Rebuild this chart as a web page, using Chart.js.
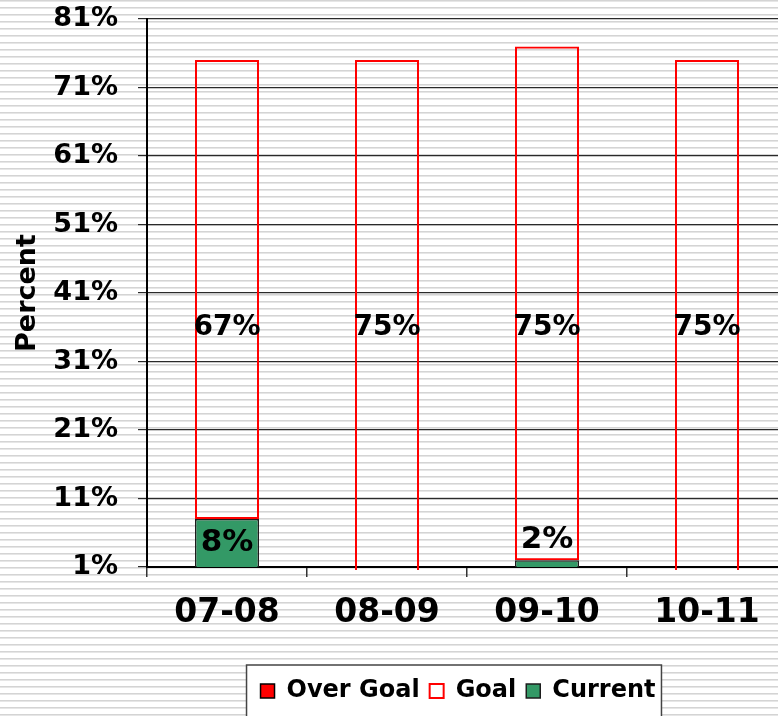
<!DOCTYPE html>
<html>
<head>
<meta charset="utf-8">
<script src="https://cdn.jsdelivr.net/npm/chart.js@4"></script>
<style>
  html, body {
    margin: 0;
    padding: 0;
    width: 778px;
    height: 716px;
    overflow: hidden;
    background: repeating-linear-gradient(to bottom,
      #d4d4d4 0px, #d4d4d4 1px, #e6e6e6 1px, #e6e6e6 2px, #ffffff 2px, #ffffff 7px);
  }
  canvas { display: block; }
</style>
</head>
<body>
<canvas id="chart" width="787" height="716"></canvas>
<script>
// values
const seasons = ['07-08', '08-09', '09-10', '10-11'];
const current = [8, 0, 2, 0];
const goal = [67, 75, 75, 75];
const overGoal = [0, 0, 0, 0];

// y axis runs 1% .. 81% in steps of 10
const yMin = 1;
const yMax = 81;
const yStep = 10;

// where the goal labels sit (in axis units) and where the legend is centred
const goalLabelLevel = 36;
const legendCenter = 458;

const FONT = "'DejaVu Sans', Verdana, sans-serif";
Chart.defaults.font.family = FONT;
Chart.defaults.font.weight = 'bold';
Chart.defaults.color = '#000';

// white framed box behind the legend, legend moved under the plot
const legendFrame = {
    id: 'legendFrame',
    afterLayout(chart) {
        const lg = chart.legend;
        const shift = legendCenter - (lg.left + lg.right) / 2;
        lg.left += shift;
        lg.right += shift;
    },
    beforeDraw(chart) {
        const boxes = chart.legend.legendHitBoxes;
        if (!boxes || !boxes.length) return;
        const ctx = chart.ctx;
        const first = boxes[0];
        const last = boxes[boxes.length - 1];
        const x0 = first.left - 14;
        const x1 = last.left + last.width + 6;
        const y0 = first.top - 14;
        ctx.save();
        ctx.fillStyle = '#fff';
        ctx.fillRect(x0, y0, x1 - x0, chart.height - y0 + 10);
        ctx.strokeStyle = '#444';
        ctx.lineWidth = 1.5;
        ctx.strokeRect(x0, y0, x1 - x0, chart.height - y0 + 10);
        ctx.restore();
    }
};

// percentage labels on the bars
const barLabels = {
    id: 'barLabels',
    afterDatasetsDraw(chart) {
        const ctx = chart.ctx;
        const y = chart.scales.y;
        ctx.save();
        ctx.fillStyle = '#000';
        ctx.textAlign = 'center';
        ctx.textBaseline = 'middle';

        ctx.font = 'bold 28px ' + FONT;
        chart.getDatasetMeta(1).data.forEach((bar, i) => {
            if (!goal[i]) return;
            ctx.fillText(goal[i] + '%', bar.x, y.getPixelForValue(goalLabelLevel));
        });

        ctx.font = 'bold 31px ' + FONT;
        chart.getDatasetMeta(0).data.forEach((bar, i) => {
            if (!current[i]) return;
            const top = bar.y;
            const bottom = Math.min(bar.base, chart.chartArea.bottom);
            let cy = (top + bottom) / 2;
            if (bottom - top < 30) cy = top - 20; // too thin, put it above
            ctx.fillText(current[i] + '%', bar.x, cy);
        });
        ctx.restore();
    }
};

const barClip = { left: false, top: false, right: false, bottom: 3 };

new Chart(document.getElementById('chart'), {
    type: 'bar',
    data: {
        labels: seasons,
        datasets: [
            {
                label: 'Current',
                data: current,
                backgroundColor: '#339966',
                borderColor: '#1c1c1c',
                borderWidth: 1.5,
                borderSkipped: false,
                clip: { left: false, top: false, right: false, bottom: 0 }
            },
            {
                label: 'Goal',
                data: goal,
                backgroundColor: 'rgba(255,255,255,0)',
                borderColor: '#ff0000',
                borderWidth: 2,
                borderSkipped: false,
                clip: barClip
            },
            {
                label: 'Over Goal',
                data: overGoal,
                backgroundColor: '#ff0000',
                borderColor: '#000',
                borderWidth: 1.5,
                clip: barClip
            }
        ]
    },
    options: {
        responsive: false,
        animation: false,
        layout: { padding: { top: 19, bottom: 3, left: 0, right: 0 } },
        datasets: { bar: { categoryPercentage: 1, barPercentage: 0.4 } },
        scales: {
            x: {
                stacked: true,
                z: 1,
                grid: { drawOnChartArea: false, tickLength: 10, color: '#333', lineWidth: 1.5 },
                border: { color: '#000', width: 2 },
                ticks: { padding: 17, font: { size: 33, weight: 'bold' }, color: '#000' },
                afterFit: s => { s.height = 102; }
            },
            y: {
                stacked: true,
                min: yMin,
                max: yMax,
                ticks: {
                    stepSize: yStep,
                    callback: v => v + '%',
                    padding: 20,
                    font: { size: 27, weight: 'bold' },
                    color: '#000'
                },
                grid: { color: '#2a2a2a', lineWidth: 1.2, tickLength: 9 },
                border: { color: '#000', width: 2 },
                title: {
                    display: true,
                    text: 'Percent',
                    font: { size: 27, weight: 'bold' },
                    padding: { top: 12, bottom: 0 },
                    color: '#000'
                },
                afterFit: s => {
                    s.width = 147;
                    s.paddingTop = 0;
                    s.paddingBottom = 0;
                }
            }
        },
        plugins: {
            legend: {
                position: 'bottom',
                reverse: true,
                labels: {
                    boxWidth: 14,
                    boxHeight: 14,
                    padding: 10,
                    font: { size: 24, weight: 'bold' },
                    color: '#000'
                }
            },
            tooltip: { enabled: false }
        }
    },
    plugins: [legendFrame, barLabels]
});
</script>
</body>
</html>
